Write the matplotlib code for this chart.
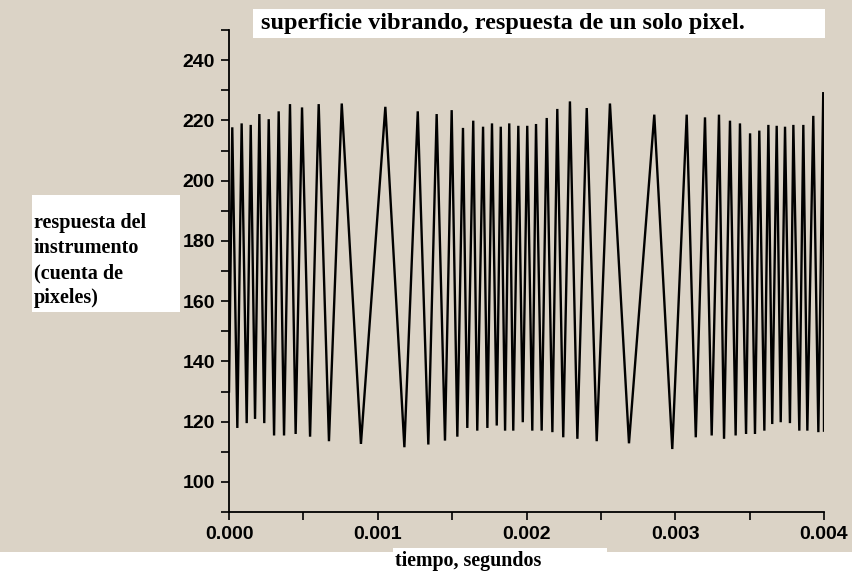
import matplotlib
matplotlib.use("Agg")
import matplotlib.pyplot as plt
from matplotlib.patches import Rectangle
from matplotlib.ticker import MultipleLocator, FormatStrFormatter

# Extremes of the trace (time in ms, value in pixel counts)
peak_t = [0.022, 0.085, 0.146, 0.204, 0.267, 0.334, 0.410, 0.491, 0.603, 0.758,
          1.051, 1.269, 1.396, 1.497, 1.573, 1.642, 1.708, 1.768, 1.827, 1.884,
          1.945, 2.005, 2.064, 2.136, 2.207, 2.292, 2.405, 2.561, 2.859, 3.077,
          3.200, 3.294, 3.368, 3.435, 3.503, 3.565, 3.626, 3.682, 3.738, 3.794,
          3.861, 3.928, 3.995]
peak_v = [217.7, 219.0, 218.5, 222.1, 220.4, 223.0, 225.4, 224.3, 225.4, 225.6,
          224.5, 223.0, 222.1, 223.4, 217.5, 219.9, 217.9, 219.0, 217.9, 219.0,
          218.2, 218.2, 218.8, 220.8, 223.8, 226.3, 224.1, 225.6, 221.9, 221.9,
          221.0, 221.9, 219.9, 219.0, 215.7, 216.6, 218.5, 218.2, 217.9, 218.5,
          218.5, 221.5, 229.4]
trough_t = [0.056, 0.119, 0.175, 0.237, 0.303, 0.370, 0.448, 0.545, 0.672, 0.887,
            1.179, 1.340, 1.452, 1.535, 1.602, 1.669, 1.737, 1.800, 1.856, 1.911,
            1.975, 2.039, 2.102, 2.174, 2.247, 2.342, 2.472, 2.689, 2.980, 3.138,
            3.245, 3.328, 3.406, 3.476, 3.536, 3.599, 3.652, 3.709, 3.771, 3.834,
            3.888, 3.962, 4.000]
trough_v = [117.9, 119.5, 120.9, 119.5, 115.4, 115.4, 115.9, 115.0, 113.5, 112.6,
            111.5, 112.4, 113.7, 115.0, 117.9, 117.0, 117.9, 118.7, 117.0, 117.0,
            119.8, 117.0, 117.0, 116.5, 114.8, 114.3, 113.5, 112.8, 110.9, 114.8,
            115.4, 114.3, 115.4, 115.9, 115.9, 117.0, 119.2, 119.8, 119.5, 117.0,
            117.0, 116.5, 117.0]
start_t, start_v = 0.0, 130.0

title_text = "superficie vibrando, respuesta de un solo pixel."
ylabel_lines = ["respuesta del", "instrumento", "(cuenta de", "pixeles)"]
xlabel_text = "tiempo, segundos"

# Build the alternating trace: start, then peak/trough pairs
t_ms = [start_t]
v = [start_v]
for i in range(len(peak_t)):
    t_ms.append(peak_t[i]); v.append(peak_v[i])
    if i < len(trough_t):
        t_ms.append(trough_t[i]); v.append(trough_v[i])
t_s = [x / 1000.0 for x in t_ms]

W, H = 855, 576
fig = plt.figure(figsize=(W / 100, H / 100), dpi=100)
fig.patch.set_facecolor("white")
beige = "#dbd3c6"
fig.patches.append(Rectangle((0, (H - 552) / H), 852 / W, 552 / H,
                             transform=fig.transFigure, facecolor=beige,
                             edgecolor="none", zorder=-10))

ax = fig.add_axes([229 / W, (H - 512) / H, (824 - 229) / W, (512 - 30) / H])
ax.set_facecolor("none")
ax.plot(t_s, v, color="black", lw=1.7, solid_joinstyle="miter")

ax.set_xlim(0, 0.004)
ax.set_ylim(90, 250)
for s in ("top", "right"):
    ax.spines[s].set_visible(False)
for s in ("left", "bottom"):
    ax.spines[s].set_linewidth(1.3)
ax.xaxis.set_major_locator(MultipleLocator(0.001))
ax.xaxis.set_minor_locator(MultipleLocator(0.0005))
ax.xaxis.set_major_formatter(FormatStrFormatter("%.3f"))
ax.yaxis.set_major_locator(MultipleLocator(20))
ax.yaxis.set_minor_locator(MultipleLocator(10))
ax.set_yticks(range(100, 241, 20))
ax.tick_params(which="both", direction="out", length=6, width=1.2)
ax.tick_params(axis="y", pad=4)
ax.tick_params(axis="x", pad=4)
for lbl in ax.get_xticklabels() + ax.get_yticklabels():
    lbl.set_fontfamily("Liberation Sans")
    lbl.set_fontweight("bold")
    lbl.set_fontsize(14)

serif = "Liberation Serif"
# title box
fig.patches.append(Rectangle((253 / W, (H - 38) / H), (825 - 253) / W, 29 / H,
                             transform=fig.transFigure, facecolor="white",
                             edgecolor="none", zorder=1))
fig.text(261 / W, (H - 24) / H, title_text, family=serif, weight="bold",
         fontsize=17.5, va="center", ha="left", zorder=2)
# y label box
fig.patches.append(Rectangle((32 / W, (H - 312) / H), (180 - 32) / W, (312 - 195) / H,
                             transform=fig.transFigure, facecolor="white",
                             edgecolor="none", zorder=1))
for i, line in enumerate(ylabel_lines):
    fig.text(34 / W, (H - (223 + 25 * i)) / H, line, family=serif, weight="bold",
             fontsize=14.5, va="center", ha="left", zorder=2)
# x label box
fig.patches.append(Rectangle((393 / W, 0), (607 - 393) / W, (576 - 548) / H,
                             transform=fig.transFigure, facecolor="white",
                             edgecolor="none", zorder=1))
fig.text(395 / W, (H - 561) / H, xlabel_text, family=serif, weight="bold",
         fontsize=14.4, va="center", ha="left", zorder=2)

fig.savefig("out.png", dpi=100)
